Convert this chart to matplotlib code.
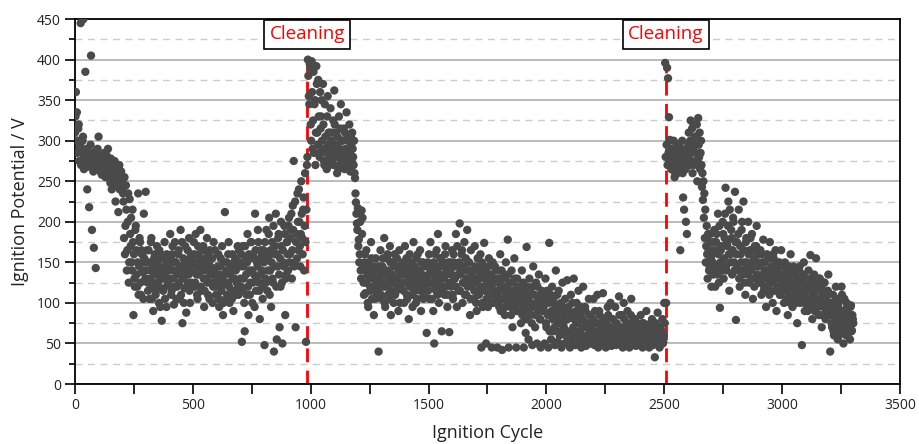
import numpy as np
import matplotlib
matplotlib.use("Agg")
import matplotlib.pyplot as plt
from matplotlib.ticker import MultipleLocator

# ---------------- data ----------------
SAMPLE_STEP = 4  # cycles between samples of one series; the "b" series sit 2 cycles later

# period 1: cycles 0 .. 986 (before first cleaning)
period1_start = 0
period1_potential = [
    310, 360, 335, 300, 320, 290, 445, 275, 300, 450, 280, 385, 268, 240, 275, 218, 280, 405, 190, 270, 168, 265, 143, 275, 290,
    305, 272, 262, 280, 268, 258, 285, 275, 262, 270, 290, 255, 265, 278, 240, 268, 250, 275, 225, 262, 258, 212, 270, 248, 262,
    250, 235, 180, 160, 245, 140, 200, 125, 228, 170, 150, 215, 85, 130, 190, 165, 120, 235, 145, 175, 110, 160, 138, 210, 150,
    237, 150, 125, 165, 105, 140, 180, 120, 90, 155, 135, 115, 170, 145, 100, 128, 160, 78, 140, 118, 175, 132, 95, 150, 122,
    145, 185, 110, 160, 130, 98, 175, 150, 120, 140, 165, 105, 190, 135, 75, 155, 118, 170, 88, 145, 125, 180, 100, 160, 138,
    150, 175, 120, 185, 135, 105, 160, 145, 190, 115, 140, 170, 95, 155, 130, 180, 110, 150, 165, 125, 140, 100, 175, 135, 120,
    130, 110, 160, 95, 145, 120, 170, 85, 135, 212, 105, 150, 125, 175, 100, 140, 115, 160, 90, 130, 155, 110, 145, 120, 165,
    145, 120, 52, 170, 130, 65, 155, 110, 185, 85, 140, 125, 175, 100, 160, 135, 210, 115, 150, 190, 125, 80, 165, 140, 105,
    165, 48, 130, 190, 115, 155, 205, 140, 95, 175, 125, 40, 160, 210, 55, 145, 185, 70, 120, 170, 50, 150, 195, 85, 135,
    175, 140, 205, 160, 190, 130, 220, 275, 150, 70, 185, 235, 165, 200, 145, 250, 180, 215, 140, 260, 52, 270,
]
period1_potential_b = [
    330, 300, 285, 315, 275, 295, 270, 285, 305, 265, 280, 275, 290, 270, 282, 268, 295, 272, 285, 262, 278, 270, 288, 265, 275,
    280, 265, 270, 258, 275, 262, 268, 255, 282, 270, 260, 275, 248, 268, 262, 255, 272, 245, 265, 258, 250, 268, 240, 255, 248,
    240, 225, 255, 195, 215, 165, 235, 150, 185, 205, 140, 175, 160, 120, 195, 135, 150, 110, 180, 125, 165, 140, 105, 155, 130,
    140, 165, 115, 150, 130, 175, 105, 145, 125, 160, 110, 140, 150, 120, 165, 95, 135, 155, 115, 145, 105, 130, 160, 125, 140,
    130, 155, 115, 170, 140, 120, 150, 105, 135, 160, 125, 145, 110, 175, 130, 100, 150, 140, 120, 165, 135, 115, 155, 125, 145,
    140, 160, 125, 150, 110, 170, 135, 155, 120, 145, 165, 130, 115, 150, 140, 125, 160, 105, 145, 135, 155, 120, 140, 165, 110,
    125, 145, 105, 135, 155, 115, 130, 100, 150, 125, 140, 110, 160, 120, 135, 145, 105, 130, 150, 115, 140, 125, 170, 110, 150,
    130, 160, 115, 145, 100, 170, 135, 150, 120, 160, 110, 175, 140, 125, 155, 95, 165, 130, 145, 175, 115, 155, 135, 160, 120,
    150, 175, 125, 160, 140, 185, 110, 165, 150, 130, 195, 145, 170, 120, 160, 180, 135, 155, 200, 125, 165, 145, 185, 130, 175,
    160, 195, 150, 180, 210, 165, 190, 145, 225, 175, 155, 200, 240, 170, 185, 210, 160, 230, 195, 175, 215, 280,
]

# period 2: cycles 988 .. 2502 (between cleanings)
period2_start = 988
period2_potential = [
    400, 355, 395, 320, 398, 290, 385, 345, 270, 392, 310, 375, 285, 360, 330, 300, 370, 275, 345, 290, 265, 355, 310, 280, 340,
    300, 275, 325, 362, 285, 310, 260, 295, 330, 270, 345, 300, 280, 315, 265, 290, 335, 305, 275, 320, 262, 295, 310, 280, 300,
    254, 224, 198, 217, 178, 160, 140, 214, 205, 125, 150, 112, 165, 135, 95, 145, 120, 175, 105, 140, 85, 130, 155, 110, 145,
    40, 130, 165, 105, 145, 120, 180, 95, 135, 155, 110, 140, 170, 85, 125, 150, 100, 160, 130, 115, 145, 90, 165, 120, 140,
    125, 150, 100, 170, 135, 110, 145, 80, 160, 120, 140, 95, 175, 130, 115, 155, 105, 140, 125, 165, 90, 135, 150, 110, 130,
    120, 63, 150, 135, 105, 175, 125, 145, 90, 50, 160, 115, 140, 185, 100, 130, 155, 65, 120, 145, 110, 170, 135, 95, 150,
    64, 140, 120, 165, 105, 150, 130, 185, 95, 145, 115, 198, 135, 160, 100, 125, 175, 140, 110, 190, 130, 150, 85, 165, 120,
    140, 105, 170, 125, 90, 155, 130, 115, 160, 45, 100, 145, 174, 120, 50, 135, 95, 155, 110, 130, 45, 150, 100, 125, 140,
    115, 45, 140, 95, 160, 120, 42, 105, 135, 85, 150, 110, 178, 45, 125, 95, 140, 70, 115, 155, 100, 45, 130, 90, 120,
    105, 75, 140, 90, 45, 120, 63, 169, 100, 55, 130, 85, 110, 48, 145, 95, 70, 125, 50, 105, 135, 80, 45, 115, 90,
    95, 50, 130, 70, 110, 45, 174, 85, 55, 120, 65, 100, 48, 140, 80, 52, 115, 60, 95, 45, 125, 75, 50, 105, 60,
    128, 55, 90, 45, 110, 65, 50, 130, 80, 48, 100, 60, 115, 52, 85, 45, 70, 120, 55, 95, 47, 75, 60, 105, 50,
    85, 50, 65, 105, 48, 75, 55, 110, 45, 90, 60, 70, 50, 112, 58, 80, 45, 65, 95, 52, 60, 100, 47, 70, 55,
    60, 95, 48, 72, 55, 108, 50, 65, 85, 45, 100, 58, 70, 50, 90, 62, 45, 75, 105, 52, 68, 55, 80, 47, 60,
    55, 70, 48, 85, 60, 45, 75, 52, 65, 90, 50, 58, 45, 70, 55, 80, 48, 62, 33, 75, 50, 88, 56, 45, 68, 60, 80, 52, 100,
]
period2_potential_b = [
    380, 345, 390, 300, 360, 325, 285, 350, 310, 370, 295, 330, 280, 315, 350, 290, 320, 270, 305, 285, 330, 295, 270, 310, 285,
    290, 310, 270, 320, 295, 280, 305, 265, 290, 315, 275, 300, 285, 270, 310, 290, 280, 300, 265, 285, 305, 275, 290, 270, 260,
    235, 210, 190, 170, 150, 200, 130, 185, 145, 110, 160, 125, 140, 100, 150, 130, 115, 155, 120, 135, 145, 105, 125, 140, 115,
    120, 145, 110, 135, 155, 125, 100, 140, 120, 160, 130, 105, 150, 115, 135, 125, 145, 110, 130, 155, 120, 140, 100, 135, 125,
    135, 115, 145, 125, 155, 105, 130, 140, 120, 150, 110, 135, 125, 145, 100, 130, 160, 120, 140, 115, 150, 125, 105, 145, 130,
    130, 145, 115, 160, 125, 140, 105, 135, 150, 120, 130, 165, 110, 145, 125, 155, 135, 115, 150, 130, 160, 120, 140, 110, 145,
    125, 150, 135, 110, 160, 130, 145, 120, 170, 135, 150, 115, 140, 165, 125, 145, 110, 155, 130, 120, 150, 140, 105, 135, 125,
    130, 115, 145, 100, 125, 140, 110, 135, 120, 150, 95, 130, 115, 140, 105, 125, 145, 110, 120, 135, 100, 130, 115, 145, 105,
    110, 130, 100, 125, 90, 140, 115, 105, 130, 95, 120, 110, 135, 100, 115, 85, 125, 105, 95, 130, 110, 90, 120, 100, 115,
    100, 115, 85, 125, 95, 110, 80, 120, 105, 90, 115, 100, 75, 120, 95, 110, 85, 100, 120, 90, 105, 80, 110, 95, 100,
    90, 105, 75, 115, 85, 100, 65, 110, 90, 80, 105, 70, 95, 85, 110, 75, 90, 65, 100, 80, 95, 70, 85, 60, 90,
    80, 95, 65, 85, 55, 100, 70, 80, 60, 90, 75, 55, 85, 65, 95, 60, 80, 55, 70, 90, 60, 75, 55, 85, 65,
    70, 55, 80, 60, 90, 55, 65, 75, 50, 85, 60, 70, 55, 80, 65, 50, 75, 60, 85, 55, 70, 50, 65, 80, 55,
    65, 55, 75, 50, 60, 85, 55, 70, 50, 65, 80, 55, 60, 75, 50, 65, 55, 85, 60, 50, 70, 55, 65, 50, 75,
    60, 50, 65, 55, 75, 50, 60, 70, 55, 50, 65, 60, 55, 75, 50, 60, 55, 70, 50, 65, 55, 60, 50, 70, 55, 65, 50, 60, 75,
]

# period 3: cycles 2504 .. 3302 (after second cleaning)
period3_start = 2504
period3_potential = [
    396, 100, 390, 377, 329, 301, 280, 265, 290, 300, 255, 275, 285, 260, 295, 270, 165, 280, 300, 230, 215, 265, 200, 185, 290,
    310, 270, 325, 285, 260, 320, 295, 275, 305, 250, 328, 280, 265, 300, 243, 227, 205, 180, 150, 195, 130, 165, 145, 185, 120,
    160, 135, 190, 120, 175, 145, 210, 125, 94, 165, 150, 200, 130, 180, 242, 140, 170, 225, 115, 160, 190, 135, 205, 150, 237,
    79, 175, 140, 215, 120, 160, 190, 135, 225, 150, 110, 180, 145, 200, 125, 165, 140, 185, 105, 155, 170, 130, 195, 145, 160,
    130, 165, 110, 150, 178, 120, 140, 95, 160, 135, 115, 175, 125, 145, 100, 155, 130, 165, 90, 140, 120, 150, 110, 165, 135,
    125, 100, 150, 115, 140, 85, 130, 110, 160, 120, 95, 145, 105, 135, 115, 75, 125, 140, 100, 130, 48, 110, 150, 90, 120,
    115, 90, 140, 105, 159, 125, 80, 110, 135, 95, 155, 100, 120, 85, 130, 105, 70, 115, 95, 125, 80, 110, 100, 135, 90,
    40, 95, 70, 110, 60, 85, 120, 75, 55, 100, 80, 65, 120, 90, 50, 105, 75, 60, 95, 70, 85, 55, 97, 66, 80,
]
period3_potential_b = [
    280, 295, 270, 285, 300, 275, 265, 290, 280, 270, 260, 285, 275, 295, 265, 280, 270, 290, 260, 275, 285, 265, 280, 270, 295,
    285, 300, 275, 315, 290, 270, 305, 285, 320, 275, 295, 310, 285, 270, 260, 250, 235, 215, 170, 160, 185, 140, 175, 155, 165,
    150, 175, 140, 165, 185, 135, 160, 195, 150, 170, 140, 185, 155, 210, 145, 175, 195, 160, 215, 150, 180, 165, 200, 140, 175,
    160, 145, 185, 130, 170, 150, 200, 140, 165, 125, 175, 150, 135, 160, 145, 180, 130, 150, 165, 120, 145, 170, 135, 150, 125,
    145, 125, 160, 135, 115, 150, 130, 140, 120, 155, 110, 135, 145, 125, 160, 115, 140, 130, 150, 120, 135, 110, 145, 125, 130,
    115, 135, 120, 105, 130, 125, 145, 100, 120, 135, 110, 125, 140, 100, 120, 130, 110, 145, 115, 105, 125, 135, 100, 115, 130,
    105, 125, 95, 115, 130, 100, 120, 110, 90, 125, 105, 115, 95, 130, 100, 120, 85, 110, 125, 95, 105, 90, 115, 85, 100,
    85, 75, 100, 65, 90, 80, 105, 70, 95, 60, 85, 75, 110, 65, 90, 70, 80, 100, 60, 85, 75, 95, 65, 85, 75,
]

cleaning_cycles = [985, 2506]
cleaning_label = "Cleaning"
x_label = "Ignition Cycle"
y_label = "Ignition Potential / V"

# ---------------- figure ----------------
plt.rcParams['font.family'] = ['Open Sans', 'DejaVu Sans']

fig = plt.figure(figsize=(9.19, 4.44), dpi=100)
ax = fig.add_axes([0.0816, 0.1351, 0.8977, 0.8219])

dot_color = '#4a4a4a'
series = [
    (period1_start, period1_potential), (period1_start + 2, period1_potential_b),
    (period2_start, period2_potential), (period2_start + 2, period2_potential_b),
    (period3_start, period3_potential), (period3_start + 2, period3_potential_b),
]
for start, vals in series:
    y = np.asarray(vals, dtype=float)
    x = start + SAMPLE_STEP * np.arange(len(y))
    ax.scatter(x, y, s=36, color=dot_color, edgecolors='none', zorder=3)

for c in cleaning_cycles:
    ax.plot([c, c], [0, 400], color='#ff0000', lw=2.0, dashes=(5, 3), zorder=2)
    ax.text(c, 431, cleaning_label, ha='center', va='center', color='#ff0000',
            fontsize=13.5, zorder=5,
            bbox=dict(boxstyle='square,pad=0.28', fc='white', ec='black', lw=1.2))

ax.set_xlim(0, 3500)
ax.set_ylim(0, 450)
ax.xaxis.set_major_locator(MultipleLocator(500))
ax.xaxis.set_minor_locator(MultipleLocator(250))
ax.yaxis.set_major_locator(MultipleLocator(50))
ax.yaxis.set_minor_locator(MultipleLocator(25))

ax.grid(axis='y', which='major', color='#a8a8a8', lw=1.1, zorder=0)
ax.grid(axis='y', which='minor', color='#cccccc', lw=1.0, ls=(0, (5, 4)), zorder=0)
ax.grid(axis='x', visible=False, which='both')
ax.set_axisbelow(True)

for sp in ax.spines.values():
    sp.set_linewidth(1.3)
    sp.set_color('black')

ax.tick_params(axis='both', which='both', direction='out', top=False, right=False,
               width=1.2, color='black')
ax.tick_params(axis='x', which='major', length=7)
ax.tick_params(axis='x', which='minor', length=7)
ax.tick_params(axis='y', which='major', length=7)
ax.tick_params(axis='y', which='minor', length=4)
ax.tick_params(axis='both', labelsize=10, labelcolor='#222222', pad=3)

ax.set_xlabel(x_label, fontsize=13, color='#222222', labelpad=8)
ax.set_ylabel(y_label, fontsize=13, color='#222222', labelpad=6)

fig.savefig('out.png', dpi=100)
